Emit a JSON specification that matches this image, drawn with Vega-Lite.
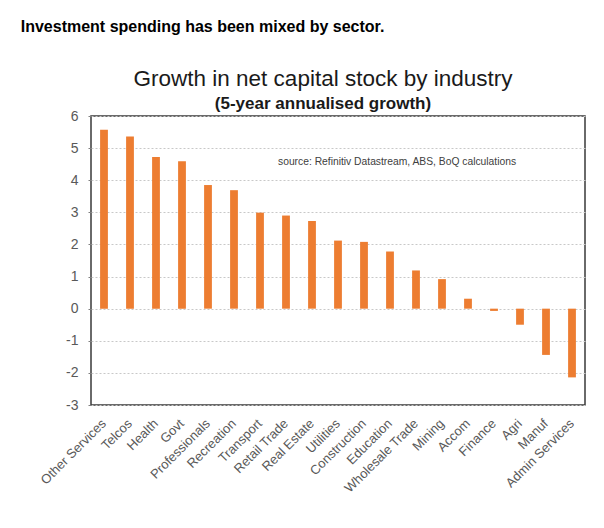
{
  "$schema": "https://vega.github.io/schema/vega-lite/v6.json",
  "background": "white",
  "padding": {"left": 20, "top": 18, "right": 20, "bottom": 5},
  "title": {
    "text": "Investment spending has been mixed by sector.",
    "anchor": "start",
    "font": "Liberation Sans",
    "fontSize": 16,
    "fontWeight": "bold",
    "color": "#000000",
    "dx": -17,
    "offset": 32
  },
  "config": {
    "view": {"stroke": "#3a3a3a", "strokeWidth": 1.5},
    "font": "Liberation Sans"
  },
  "vconcat": [
    {
      "width": 494,
      "height": 289,
      "title": {
        "text": "Growth in net capital stock by industry",
        "subtitle": "(5-year annualised growth)",
        "font": "Liberation Sans",
        "subtitleFont": "Liberation Sans",
        "fontSize": 22.5,
        "fontWeight": "normal",
        "subtitleFontSize": 17,
        "subtitleFontWeight": "bold",
        "color": "#1a1a1a",
        "subtitleColor": "#1a1a1a",
        "anchor": "middle",
        "frame": "group",
        "dx": -15,
        "offset": -3,
        "subtitlePadding": 6
      },
      "data": {
        "values": [
          {"industry": "Other Services", "growth": 5.57},
          {"industry": "Telcos", "growth": 5.36},
          {"industry": "Health", "growth": 4.72},
          {"industry": "Govt", "growth": 4.59},
          {"industry": "Professionals", "growth": 3.85},
          {"industry": "Recreation", "growth": 3.69},
          {"industry": "Transport", "growth": 2.99},
          {"industry": "Retail Trade", "growth": 2.9},
          {"industry": "Real Estate", "growth": 2.73},
          {"industry": "Utilities", "growth": 2.12},
          {"industry": "Construction", "growth": 2.08},
          {"industry": "Education", "growth": 1.78},
          {"industry": "Wholesale Trade", "growth": 1.19},
          {"industry": "Mining", "growth": 0.92},
          {"industry": "Accom", "growth": 0.31},
          {"industry": "Finance", "growth": -0.07},
          {"industry": "Agri", "growth": -0.5},
          {"industry": "Manuf", "growth": -1.44},
          {"industry": "Admin Services", "growth": -2.14}
        ]
      },
      "layer": [
        {
          "mark": {"type": "bar", "color": "#ED7D31"},
          "encoding": {
            "x": {
              "field": "industry",
              "type": "nominal",
              "sort": null,
              "scale": {"paddingInner": 0.7, "paddingOuter": 0.35},
              "axis": {
                "title": null,
                "labelAngle": -45,
                "labelAlign": "right",
                "labelBaseline": "middle",
                "ticks": false,
                "domain": false,
                "grid": false,
                "labelFont": "Liberation Sans",
                "labelFontSize": 13,
                "labelColor": "#595959",
                "labelPadding": 16
              }
            },
            "y": {
              "field": "growth",
              "type": "quantitative",
              "scale": {"domain": [-3, 6], "nice": false},
              "axis": {
                "title": null,
                "values": [-3, -2, -1, 0, 1, 2, 3, 4, 5, 6],
                "tickCount": 20,
                "labelExpr": "'' + datum.value",
                "labelOverlap": false,
                "grid": true,
                "gridColor": "#c8c8c8",
                "gridDash": [2, 2],
                "domain": false,
                "tickSize": 3,
                "tickColor": "#7f7f7f",
                "labelFont": "Liberation Sans",
                "labelFontSize": 14,
                "labelColor": "#595959",
                "labelPadding": 10
              }
            }
          }
        },
        {
          "data": {"values": [{"source": "source:  Refinitiv Datastream,  ABS,  BoQ calculations"}]},
          "mark": {"type": "text", "align": "left", "baseline": "middle", "dx": -8, "fontSize": 10.3, "color": "#404040", "font": "Liberation Sans"},
          "encoding": {
            "x": {"datum": "Retail Trade"},
            "y": {"datum": 4.57},
            "text": {"field": "source"}
          }
        }
      ]
    }
  ]
}
